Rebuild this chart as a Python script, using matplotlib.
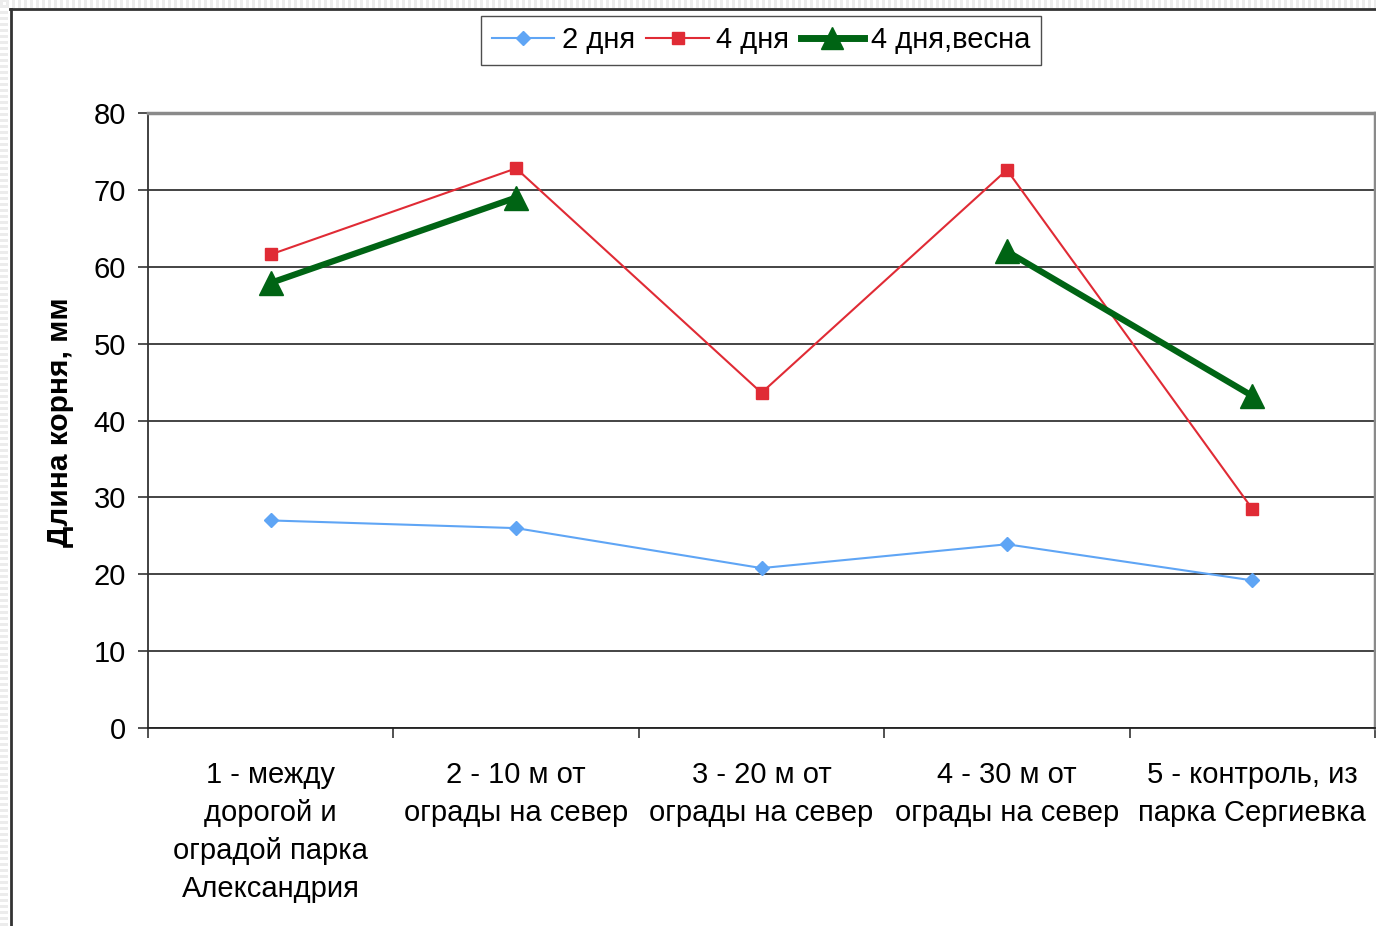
import matplotlib
matplotlib.use("Agg")
import matplotlib.pyplot as plt
from matplotlib.lines import Line2D
from matplotlib.patches import Rectangle
import numpy as np

plt.rcParams['font.family'] = ['Liberation Sans', 'DejaVu Sans']

categories = [
    "1 - между\nдорогой и\nоградой парка\nАлександрия",
    "2 - 10 м от\nограды на север",
    "3 - 20 м от\nограды на север",
    "4 - 30 м от\nограды на север",
    "5 - контроль, из\nпарка Сергиевка",
]
days2 = [27.0, 26.0, 20.8, 23.9, 19.2]
days4 = [61.6, 72.8, 43.6, 72.6, 28.5]
days4_spring = [57.9, 69.0, np.nan, 62.0, 43.2]
series_names = ["2 дня", "4 дня", "4 дня,весна"]
y_ticks = [0, 10, 20, 30, 40, 50, 60, 70, 80]
y_label = "Длина корня, мм"

W, H = 1376, 926
fig = plt.figure(figsize=(W / 100, H / 100), dpi=100)
fig.patch.set_facecolor("white")

# page background strips around the chart frame
for x0 in range(0, W, 6):
    fig.add_artist(Rectangle((x0 / W, 1 - 8 / H), 3 / W, 8 / H, transform=fig.transFigure,
                             facecolor="#ececec", edgecolor="none"))
for y0 in range(0, H, 6):
    fig.add_artist(Rectangle((0, y0 / H), 8 / W, 3 / H, transform=fig.transFigure,
                             facecolor="#ececec", edgecolor="none"))
# chart area frame
fig.add_artist(Line2D([10.5 / W, 10.5 / W], [0, 1 - 9 / H], transform=fig.transFigure,
                      color="#333333", lw=2))
fig.add_artist(Line2D([10 / W, 1], [1 - 9 / H, 1 - 9 / H], transform=fig.transFigure,
                      color="#333333", lw=2))

left, right, top, bottom = 148, 1375, 113, 728
ax = fig.add_axes([left / W, 1 - bottom / H, (right - left) / W, (bottom - top) / H])
ax.set_facecolor("white")

x = np.arange(len(categories))
ax.set_xlim(-0.5, len(categories) - 0.5)
ax.set_ylim(0, 80)

ax.set_yticks(y_ticks)
ax.yaxis.grid(True, color="#111111", lw=1.1)
ax.set_axisbelow(True)
ax.tick_params(axis="y", direction="out", length=7, width=1.1, color="#222222",
               labelsize=21, pad=9)

ax.set_xticks(x)
ax.set_xticklabels(categories, fontsize=21, linespacing=1.46, va="top")
ax.tick_params(axis="x", which="major", length=0, pad=23.5)
ax.set_xticks(np.arange(-0.5, len(categories), 1.0), minor=True)
ax.tick_params(axis="x", which="minor", direction="out", length=7, width=1.1, color="#222222")

for side in ("top", "right"):
    ax.spines[side].set_color("#8a8a8a")
    ax.spines[side].set_linewidth(2.5)
ax.spines["left"].set_color("#333333")
ax.spines["left"].set_linewidth(1.3)
ax.spines["bottom"].set_color("#222222")
ax.spines["bottom"].set_linewidth(1.3)

l1, = ax.plot(x, days2, color="#5fa5f5", lw=1.5, marker="D", ms=7,
              markerfacecolor="#5fa5f5", markeredgecolor="#5fa5f5", label=series_names[0],
              zorder=3)
l2, = ax.plot(x, days4, color="#e02b35", lw=1.5, marker="s", ms=8,
              markerfacecolor="#e02b35", markeredgecolor="#e02b35", label=series_names[1],
              zorder=3)
l3, = ax.plot(x, days4_spring, color="#006414", lw=4.5, marker="^", ms=17,
              markerfacecolor="#006414", markeredgecolor="#006414", label=series_names[2],
              zorder=4)

fig.text(60 / W, 1 - 422 / H, y_label, rotation=90, fontsize=21.5, fontweight="bold",
         ha="center", va="center")

leg = fig.legend(handles=[l1, l2, l3], loc="center", bbox_to_anchor=(761 / W, 1 - 40.5 / H),
                 ncol=3, fontsize=21, frameon=True, fancybox=False, edgecolor="#222222",
                 handlelength=2.15, handletextpad=0.25, columnspacing=0.4,
                 borderpad=0.36, borderaxespad=0)
leg.get_frame().set_linewidth(1.0)
for h in leg.legend_handles:
    if h.get_label() == series_names[2]:
        h.set_markersize(16)
        h.set_linewidth(5)

fig.savefig("out.png", dpi=100, facecolor="white")
